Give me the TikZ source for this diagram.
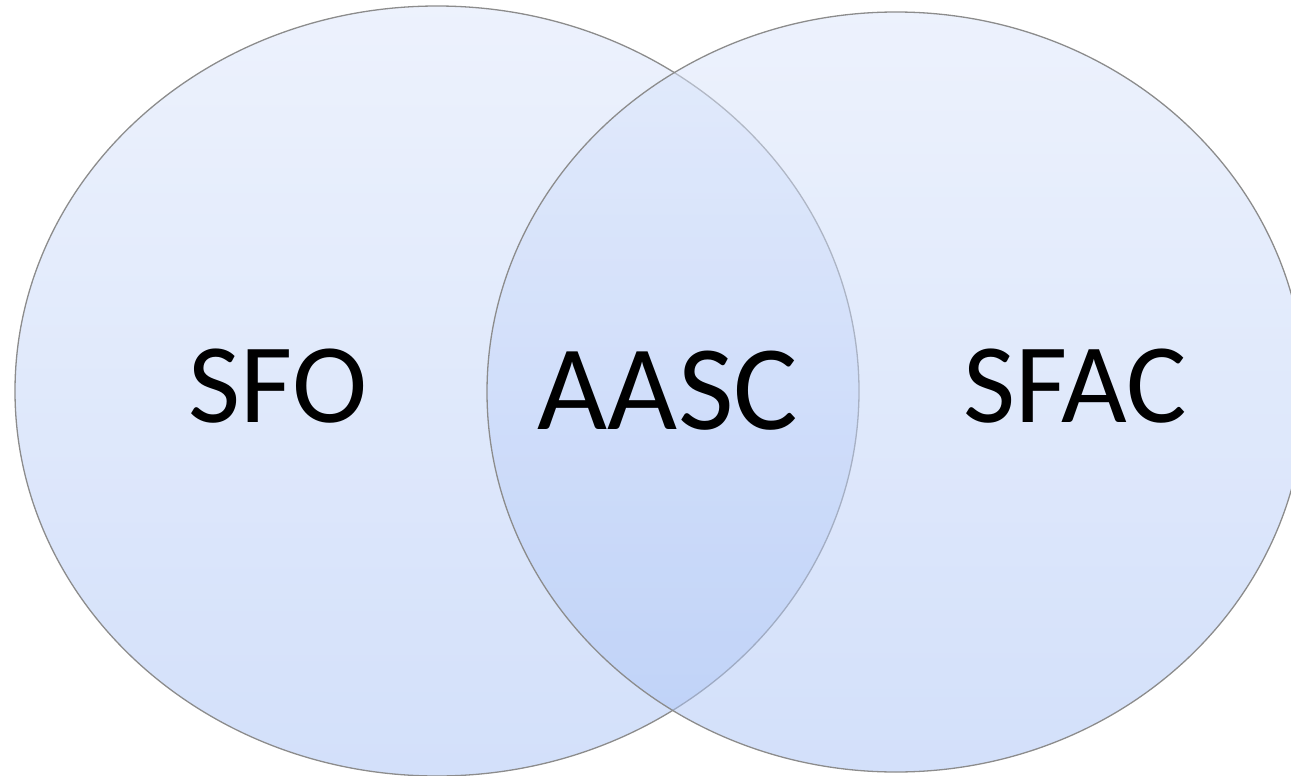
\documentclass[tikz,border=0pt]{standalone}
\usepackage{fontspec}
\setmainfont{Carlito}
\begin{document}
\begin{tikzpicture}[x=0.5pt,y=-0.5pt,
  venn/.style={draw=black!45,line width=0.65pt,top color=vtop,bottom color=vbot,fill opacity=0.52,draw opacity=1},
  lbl/.style={inner sep=0pt,text=black}]
\definecolor{vtop}{RGB}{220,230,251}
\definecolor{vbot}{RGB}{170,195,245}
\useasboundingbox (0,0) rectangle (1291,776);
\shade[venn] (437,391) ellipse [x radius=422,y radius=385];
\shade[venn] (896,392) ellipse [x radius=409,y radius=380];
\node[lbl,font=\fontsize{56.7pt}{60pt}\selectfont] (sfo) at (278,386) {SFO};
\node[lbl,font=\fontsize{60.5pt}{64pt}\selectfont] (aasc) at (668,391) {AASC};
\node[lbl,font=\fontsize{56.7pt}{60pt}\selectfont] (sfac) at (1075,386) {SFAC};
\end{tikzpicture}
\end{document}
